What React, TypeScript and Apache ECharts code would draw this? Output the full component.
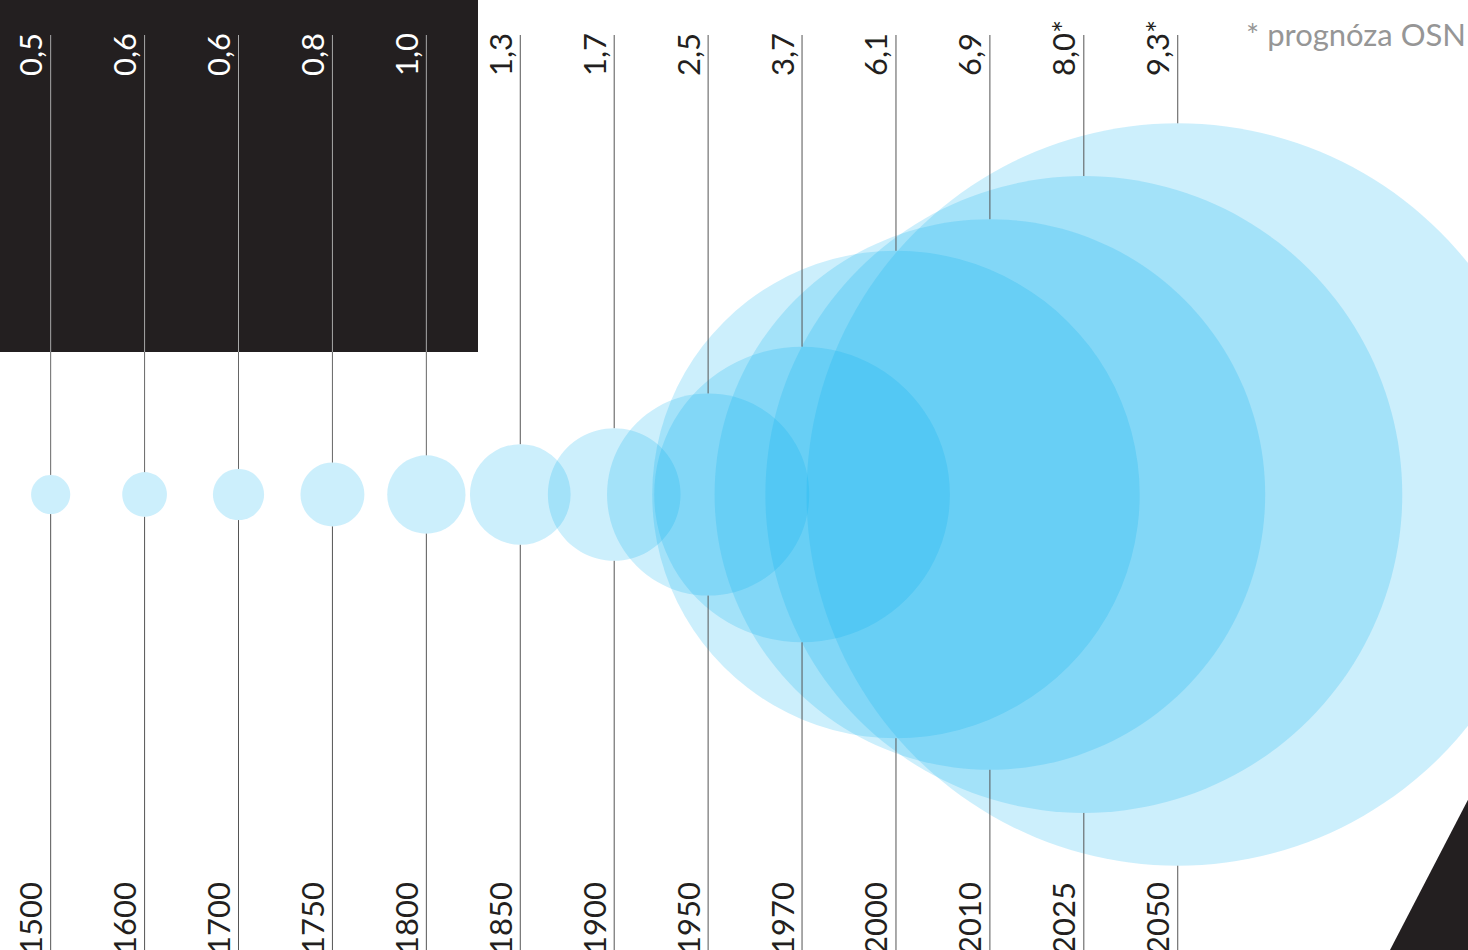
import React, { useEffect, useRef } from "react";
import * as echarts from "echarts";

// ---- data ----
const years = ["1500", "1600", "1700", "1750", "1800", "1850", "1900", "1950", "1970", "2000", "2010", "2025", "2050"];
// world population, billions (circle radius is proportional to it)
const population = [0.49, 0.56, 0.64, 0.8, 0.98, 1.26, 1.66, 2.53, 3.7, 6.1, 6.89, 7.97, 9.29];
const valueLabels = ["0,5", "0,6", "0,6", "0,8", "1,0", "1,3", "1,7", "2,5", "3,7", "6,1", "6,9", "8,0*", "9,3*"];
const note = "* prognóza OSN";

// ---- styling constants ----
const W = 1468;
const H = 950;
const PANEL_W = 478;
const PANEL_H = 352;
const INK = "#231f20";
const FONT = "Lato, 'Noto Sans', sans-serif";
const LABEL_SIZE = 31;
const LABEL_OFFSET = 20.5;
const VALUE_LABEL_START = 76;
const YEAR_LABEL_END = 882;

export default function App() {
  const ref = useRef<HTMLDivElement>(null);

  useEffect(() => {
    if (!ref.current) return;
    const chart = echarts.init(ref.current, null, { renderer: "svg" });
    const data = years.map((_, i) => [i, population[i]]);

    const option: any = {
      animation: false,
      backgroundColor: "#ffffff",
      title: {
        text: note,
        right: 2,
        top: 18,
        padding: 0,
        textStyle: { color: "#969696", fontSize: 31, fontWeight: "normal", fontFamily: FONT },
      },
      grid: { left: 3.7, right: 243.3, top: 35, bottom: 0 },
      xAxis: { type: "category", data: years, show: false },
      yAxis: { type: "value", min: -11.4, max: 11.5, show: false, splitLine: { show: false } },
      graphic: [
        {
          type: "rect",
          z: 0,
          shape: { x: 0, y: 0, width: PANEL_W, height: PANEL_H },
          style: { fill: INK },
        },
        {
          type: "polygon",
          z: 0,
          shape: { points: [[1390, 950], [1500, 738], [1500, 960], [1390, 960]] },
          style: { fill: INK },
        },
      ],
      series: [
        {
          type: "custom",
          name: "circles",
          clip: false,
          z: 2,
          data,
          renderItem: (params: any, api: any) => {
            const c = api.coord([api.value(0), 0]);
            const r = api.size([0, api.value(1)])[1];
            return {
              type: "circle",
              shape: { cx: c[0], cy: c[1], r },
              style: { fill: "rgba(0,174,239,0.2)" },
            };
          },
        },
        {
          type: "custom",
          name: "stems",
          clip: false,
          z: 3,
          data,
          renderItem: (params: any, api: any) => {
            const idx = params.dataIndex;
            const c = api.coord([api.value(0), 0]);
            const r = api.size([0, api.value(1)])[1];
            const cs = params.coordSys;
            const top = cs.y;
            const bottom = cs.y + cs.height;
            const x = c[0];
            const onPanel = x < PANEL_W;
            const children: any[] = [];
            const upperEnd = c[1] - r;
            if (onPanel) {
              children.push({
                type: "line",
                shape: { x1: x, y1: top, x2: x, y2: Math.min(PANEL_H, upperEnd) },
                style: { stroke: "#a8a8a8", lineWidth: 1 },
              });
              if (upperEnd > PANEL_H) {
                children.push({
                  type: "line",
                  shape: { x1: x, y1: PANEL_H, x2: x, y2: upperEnd },
                  style: { stroke: "#666666", lineWidth: 1 },
                });
              }
            } else {
              children.push({
                type: "line",
                shape: { x1: x, y1: top, x2: x, y2: upperEnd },
                style: { stroke: "#555555", lineWidth: 1 },
              });
            }
            children.push({
              type: "line",
              shape: { x1: x, y1: c[1] + r, x2: x, y2: bottom },
              style: { stroke: "#555555", lineWidth: 1 },
            });
            children.push({
              type: "text",
              x: x - LABEL_OFFSET,
              y: VALUE_LABEL_START,
              rotation: Math.PI / 2,
              style: {
                text: valueLabels[idx],
                fill: onPanel ? "#ffffff" : INK,
                fontSize: LABEL_SIZE,
                fontFamily: FONT,
                align: "left",
                verticalAlign: "middle",
              },
            });
            children.push({
              type: "text",
              x: x - LABEL_OFFSET,
              y: YEAR_LABEL_END,
              rotation: Math.PI / 2,
              style: {
                text: years[idx],
                fill: INK,
                fontSize: LABEL_SIZE,
                fontFamily: FONT,
                align: "right",
                verticalAlign: "middle",
              },
            });
            return { type: "group", children };
          },
        },
      ],
    };

    chart.setOption(option);
    return () => chart.dispose();
  }, []);

  return (
    <div
      ref={ref}
      style={{ position: "fixed", left: 0, top: 0, width: W, height: H, background: "#fff" }}
    />
  );
}
